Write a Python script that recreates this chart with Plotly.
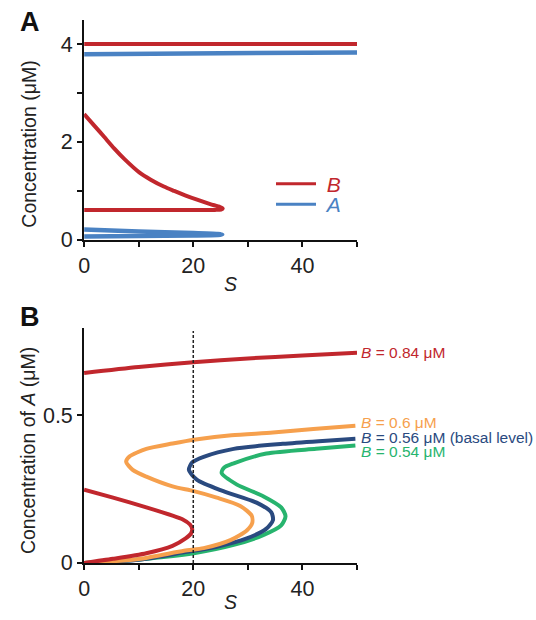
import plotly.graph_objects as go

# ---------------- data ----------------
# Panel A: steady states vs S
sA_B_high = [0, 25, 50]
vA_B_high = [4.0, 4.0, 4.0]
sA_A_high = [0, 25, 50]
vA_A_high = [3.79, 3.81, 3.83]
sA_B_low = [0, 10, 20, 24, 25.1, 25.4, 24.9, 23.1, 20.7, 18.5, 16.5, 14.6, 12.2, 10.1, 7.4, 5.5, 3.7, 1.9, 0]
vA_B_low = [0.61, 0.61, 0.61, 0.612, 0.62, 0.64, 0.67, 0.73, 0.82, 0.91, 1.0, 1.09, 1.23, 1.38, 1.65, 1.87, 2.1, 2.33, 2.57]
sA_A_low = [0, 10, 20, 24.5, 25.3, 24.5, 20, 10, 0]
vA_A_low = [0.07, 0.08, 0.09, 0.1, 0.11, 0.12, 0.14, 0.17, 0.21]

# Panel B: concentration of A vs S for several B levels
sB_084_hi = [0, 10, 20, 30, 40, 50]
aB_084_hi = [0.643, 0.663, 0.679, 0.692, 0.702, 0.711]
sB_084_lo = [0, 5.3, 11.4, 16.2, 18.6, 19.6, 19.8, 19.4, 18.0, 16.2, 11.4, 5.3, 0]
aB_084_lo = [0, 0.014, 0.033, 0.058, 0.083, 0.100, 0.115, 0.130, 0.148, 0.160, 0.188, 0.221, 0.248]
sB_060 = [0, 10, 18.3, 21.9, 26.8, 29.8, 30.8, 30.7, 28.6, 24.3, 20.1, 16.2, 11.4, 8.9, 7.7, 8.3, 11.4, 16.2, 20.1, 27, 34.6, 42, 49.7]
aB_060 = [0, 0.013, 0.041, 0.05, 0.077, 0.11, 0.135, 0.16, 0.193, 0.221, 0.243, 0.259, 0.292, 0.315, 0.342, 0.36, 0.386, 0.404, 0.417, 0.432, 0.441, 0.453, 0.464]
sB_056 = [0, 10, 18.3, 24.3, 29.8, 33.4, 34.6, 34.3, 31.6, 25.5, 20.7, 19.2, 19.8, 21.9, 27.4, 36.4, 43, 49.7]
aB_056 = [0, 0.011, 0.036, 0.055, 0.083, 0.116, 0.145, 0.171, 0.204, 0.243, 0.281, 0.315, 0.34, 0.359, 0.386, 0.403, 0.412, 0.42]
sB_054 = [0, 10, 20.1, 27.4, 32.8, 36.1, 36.9, 36.1, 32.8, 28, 25.2, 25.6, 27.4, 33.4, 42.5, 49.7]
aB_054 = [0, 0.012, 0.033, 0.061, 0.094, 0.127, 0.158, 0.188, 0.226, 0.265, 0.304, 0.322, 0.337, 0.37, 0.386, 0.397]
s_marker = [20, 20]
a_marker = [0, 0.785]

labels_B = ["<i>B</i> = 0.84 \u03bcM", "<i>B</i> = 0.6 \u03bcM",
            "<i>B</i> = 0.56 \u03bcM (basal level)", "<i>B</i> = 0.54 \u03bcM"]
label_py = [360, 432, 446.5, 461]   # label centre rows (px)

x_ticks = [0, 10, 20, 30, 40, 50]
x_ticktext = ["0", "", "20", "", "40", ""]
yA_ticks = [0, 1, 2, 3, 4]
yA_ticktext = ["0", "", "2", "", "4"]
yB_ticks = [0, 0.5]
yB_ticktext = ["0", "0.5"]

# ---------------- style ----------------
RED = "#c1272d"
BLUE = "#4a82c3"
ORANGE = "#f6a04d"
NAVY = "#2a4a7f"
GREEN = "#27b46e"
FONT = "Liberation Sans, Arial, sans-serif"
W, H = 536, 620
LW = 4
TICK = 21.5
TITLE = 19.5

fig = go.Figure()

def line(x, y, color, xa, ya, width=LW, **kw):
    fig.add_trace(go.Scatter(x=x, y=y, mode="lines", xaxis=xa, yaxis=ya,
                             line=dict(color=color, width=width, shape="spline", smoothing=0.7),
                             hoverinfo="skip", showlegend=False, **kw))

# Panel A
line(sA_A_high, vA_A_high, BLUE, "x", "y", width=4.5)
line(sA_A_low, vA_A_low, BLUE, "x", "y", width=4.5)
line(sA_B_high, vA_B_high, RED, "x", "y")
line(sA_B_low, vA_B_low, RED, "x", "y")
# legend entries
fig.add_trace(go.Scatter(x=[None], y=[None], mode="lines", xaxis="x", yaxis="y",
                         line=dict(color=RED, width=3), legend="legend",
                         name="&nbsp;<span style='color:%s'><i>B</i></span>" % RED))
fig.add_trace(go.Scatter(x=[None], y=[None], mode="lines", xaxis="x", yaxis="y",
                         line=dict(color=BLUE, width=3), legend="legend2",
                         name="&nbsp;<span style='color:%s'><i>A</i></span>" % BLUE))

# Panel B
line(sB_054, aB_054, GREEN, "x2", "y2")
line(sB_056, aB_056, NAVY, "x2", "y2")
line(sB_060, aB_060, ORANGE, "x2", "y2")
line(sB_084_lo, aB_084_lo, RED, "x2", "y2")
line(sB_084_hi, aB_084_hi, RED, "x2", "y2")
fig.add_trace(go.Scatter(x=s_marker, y=a_marker, mode="lines", xaxis="x2", yaxis="y2",
                         line=dict(color="#222222", width=1.5, dash="3px,2px"),
                         hoverinfo="skip", showlegend=False))

axis_common = dict(showline=True, linecolor="#111111", linewidth=2, ticks="outside",
                   ticklen=5, tickwidth=1.5, tickcolor="#111111", showgrid=False,
                   zeroline=False, tickfont=dict(family=FONT, size=TICK, color="#222222"))

xdom = [79 / W, 355 / W]
leg_common = dict(xanchor="left", yanchor="middle", bgcolor="rgba(0,0,0,0)",
                  font=dict(family=FONT, size=21), itemwidth=40)
fig.update_layout(
    width=W, height=H, margin=dict(l=0, r=0, t=0, b=0),
    paper_bgcolor="white", plot_bgcolor="white",
    font=dict(family=FONT, color="#222222"),
    xaxis=dict(domain=xdom, range=[0, 50], anchor="y", tickvals=x_ticks,
               ticktext=x_ticktext, **axis_common),
    yaxis=dict(domain=[1 - 245 / H, 1 - 20 / H], range=[0, 4.5], anchor="x",
               tickvals=yA_ticks, ticktext=yA_ticktext, **axis_common),
    xaxis2=dict(domain=xdom, range=[0, 50], anchor="y2", tickvals=x_ticks,
                ticktext=x_ticktext, **axis_common),
    yaxis2=dict(domain=[1 - 575 / H, 1 - 335 / H], range=[0, 0.795], anchor="x2",
                tickvals=yB_ticks, ticktext=yB_ticktext, **axis_common),
    showlegend=True,
    legend=dict(x=268 / W, y=1 - 188 / H, **leg_common),
    legend2=dict(x=268 / W, y=1 - 209 / H, **leg_common),
)

def pann(text, px, py, size, color="#222222", angle=0, xanchor="center"):
    return dict(text=text, x=px / W, y=1 - py / H, xref="paper", yref="paper",
                showarrow=False, textangle=angle, xanchor=xanchor, yanchor="middle",
                font=dict(family=FONT, size=size, color=color))

ann = [
    pann("<b>A</b>", 24, 22, 27, "#111111"),
    pann("<b>B</b>", 24, 324, 27, "#111111"),
    pann("Concentration (\u03bcM)", 23, 147, TITLE, angle=-90),
    pann("Concentration of <i>A</i> (\u03bcM)", 23, 460, TITLE, angle=-90),
    pann("<i>S</i>", 227, 290, TITLE),
    pann("<i>S</i>", 227, 615, TITLE),
]
for t, py, c in zip(labels_B, label_py, [RED, ORANGE, NAVY, GREEN]):
    ann.append(pann(t, 357, py, 15.5, c, xanchor="left"))
fig.update_layout(annotations=ann)

fig.write_html("out.html", config={"displayModeBar": False},
               post_script="document.body.style.margin='0px';")
